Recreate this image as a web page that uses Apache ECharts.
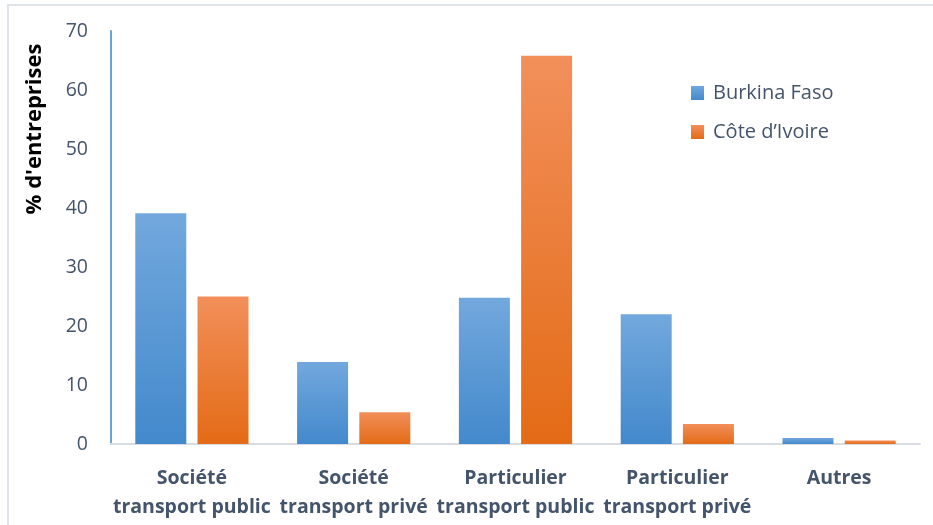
<!DOCTYPE html>
<html><head><meta charset="utf-8">
<script src="https://cdn.jsdelivr.net/npm/echarts@6/dist/echarts.min.js"></script>
<style>html,body{margin:0;padding:0;background:#fff}#c{width:933px;height:525px}</style>
</head><body><div id="c"></div>
<script>
const categories = ["Société\ntransport public", "Société\ntransport privé", "Particulier\ntransport public", "Particulier\ntransport privé", "Autres"];
const burkina = [39.1, 13.9, 24.8, 22.0, 1.0];
const coteIvoire = [25.0, 5.4, 65.8, 3.4, 0.6];
const seriesNames = ["Burkina Faso", "Côte d’Ivoire"];
const yTicks = {min: 0, max: 70, interval: 10};

const font = "'Open Sans', 'Noto Sans', sans-serif";
const grad = (top, bottom) => new echarts.graphic.LinearGradient(0, 0, 0, 1, [{offset: 0, color: top}, {offset: 1, color: bottom}]);
const chart = echarts.init(document.getElementById('c'), null, {renderer: 'canvas'});
chart.setOption({
  animation: false,
  backgroundColor: '#fff',
  grid: {left: 111, top: 31, right: 13, bottom: 81, containLabel: false},
  graphic: [
    {type: 'rect', shape: {x: 8, y: 5, width: 1000, height: 600}, style: {fill: 'none', stroke: '#dfe4ea', lineWidth: 2}, silent: true},
    {type: 'text', x: 35, y: 129, rotation: Math.PI / 2,
     style: {text: "% d'entreprises", font: "bold 22px " + font, fill: '#000', textAlign: 'center', textVerticalAlign: 'middle'}}
  ],
  legend: {
    orient: 'vertical', left: 691, top: 83, padding: 0, itemWidth: 13, itemHeight: 14, itemGap: 19,
    textStyle: {color: '#44546a', fontSize: 20, lineHeight: 20, fontFamily: font, padding: [0, 0, 0, 4]},
    data: seriesNames, icon: 'rect'
  },
  xAxis: {
    type: 'category', data: categories,
    axisLine: {lineStyle: {color: '#d9dde3', width: 2}},
    axisTick: {show: false},
    axisLabel: {color: '#44546a', fontSize: 19.5, fontWeight: 'bold', fontFamily: font, lineHeight: 29, margin: 20, interval: 0}
  },
  yAxis: {
    type: 'value', min: yTicks.min, max: yTicks.max, interval: yTicks.interval,
    axisLine: {show: true, lineStyle: {color: '#6fa0d8', width: 2}},
    axisTick: {show: false},
    splitLine: {show: false},
    axisLabel: {color: '#44546a', fontSize: 19.5, fontFamily: font, margin: 23}
  },
  series: [
    {name: seriesNames[0], type: 'bar', data: burkina, barWidth: 51, barGap: '22%',
     itemStyle: {color: grad('#72a8dd', '#4389cc')}},
    {name: seriesNames[1], type: 'bar', data: coteIvoire, barWidth: 51,
     itemStyle: {color: grad('#f28f5a', '#e36b16')}}
  ]
});
</script></body></html>
